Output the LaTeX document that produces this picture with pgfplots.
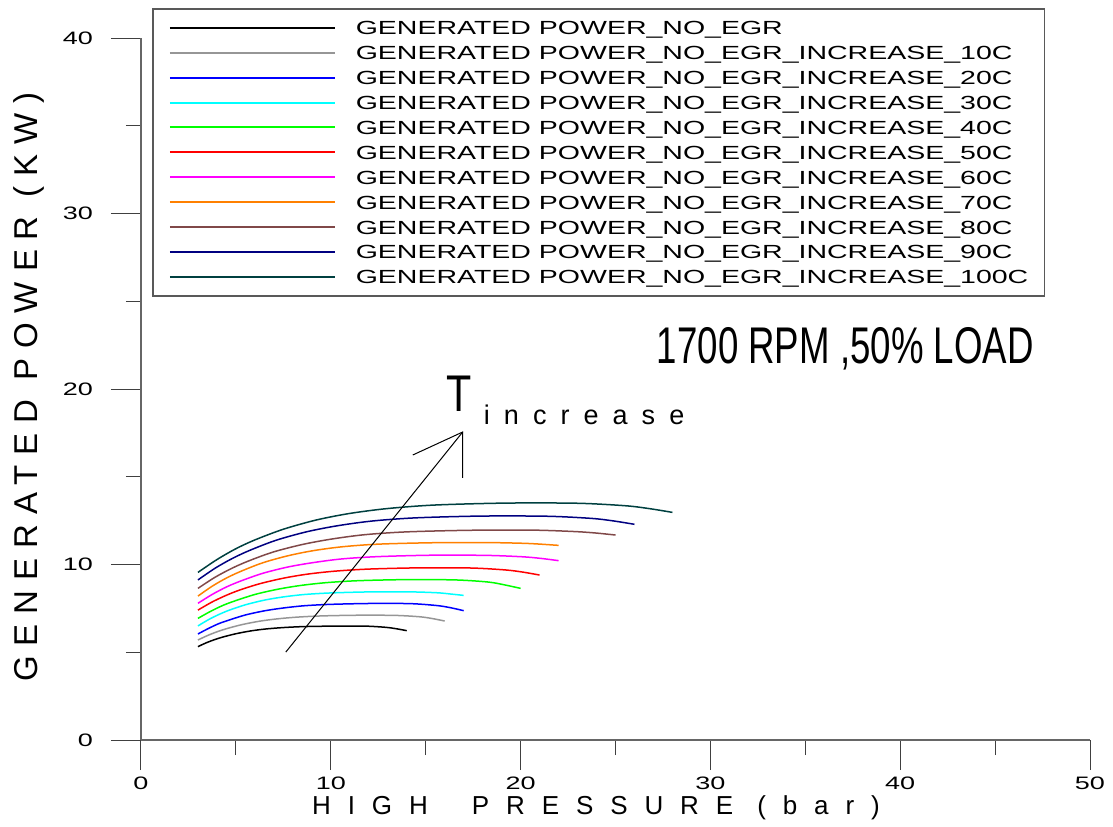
\documentclass[border=0pt]{standalone}
\usepackage{fontspec}
\setmainfont{Liberation Sans}
\newfontfamily\widefont[FakeStretch=1.5]{Liberation Sans}
\newfontfamily\condfont[FakeStretch=0.71]{Liberation Sans}
\newfontfamily\tfont[FakeStretch=0.8]{Liberation Sans}
\newfontfamily\incfont[LetterSpace=52]{Liberation Sans}
\newfontfamily\ylabfont[LetterSpace=30]{Liberation Sans}
\newfontfamily\xlabfont[LetterSpace=65]{Liberation Sans}
\usepackage{pgfplots}
\pgfplotsset{compat=1.18}

\definecolor{powgray}{RGB}{150,150,150}
\definecolor{powblue}{RGB}{0,0,255}
\definecolor{powcyan}{RGB}{0,255,255}
\definecolor{powgreen}{RGB}{0,255,0}
\definecolor{powred}{RGB}{255,0,0}
\definecolor{powmag}{RGB}{255,0,255}
\definecolor{poworange}{RGB}{255,128,0}
\definecolor{powbrown}{RGB}{128,72,72}
\definecolor{pownavy}{RGB}{0,0,128}
\definecolor{powteal}{RGB}{0,64,64}

\begin{document}
\begin{tikzpicture}
\begin{axis}[
    at={(0pt,0pt)}, anchor=south west,
    scale only axis, width=474.5pt, height=351pt,
    xmin=0, xmax=50, ymin=0, ymax=40,
    axis x line*=bottom, axis y line*=left,
    tick align=outside,
    xtick={0,10,...,50}, ytick={0,10,...,40},
    minor tick num=1,
    major tick length=15pt, minor tick length=7.5pt,
    axis line style={black!60, line width=1pt},
    every tick/.style={black!75, line width=0.5pt},
    /pgf/number format/assume math mode=true,
    tick label style={font=\widefont\fontsize{9}{10}\selectfont},
    yticklabel style={xshift=-5.5pt},
    every axis plot/.append style={line width=0.75pt},
    legend image code/.code={\draw[#1, line width=1pt] (0pt,0pt) -- (82.5pt,0pt);},
    legend cell align=left,
    legend style={at={(0.0116,1.0427)}, anchor=north west,
        draw=black!65, line width=0.8pt,
        font=\widefont\fontsize{9.5}{10}\selectfont,
        inner xsep=8pt, inner ysep=6pt, row sep=5.45pt,
        nodes={inner sep=0pt, text height=7pt, text depth=0pt},
        /tikz/every odd column/.append style={column sep=10pt}},
]
\addplot[color=black, smooth] coordinates {(3,5.32) (3.44,5.54) (3.88,5.72) (4.32,5.87) (4.98,6.05) (5.75,6.21) (6.52,6.32) (7.4,6.40) (8.5,6.46) (10.15,6.49) (11.8,6.49) (12.9,6.42) (13.45,6.34) (14,6.23)};
\addlegendentry{GENERATED POWER\_NO\_EGR}
\addplot[color=powgray, smooth] coordinates {(3,5.70) (3.52,5.96) (4.04,6.18) (4.56,6.36) (5.34,6.58) (6.25,6.77) (7.16,6.90) (8.2,7.00) (9.5,7.07) (11.45,7.11) (13.4,7.10) (14.7,7.02) (15.35,6.92) (16,6.78)};
\addlegendentry{GENERATED POWER\_NO\_EGR\_INCREASE\_10C}
\addplot[color=powblue, smooth] coordinates {(3,6.04) (3.56,6.36) (4.12,6.64) (4.68,6.85) (5.52,7.13) (6.5,7.36) (7.48,7.52) (8.6,7.65) (10,7.73) (12.1,7.78) (14.2,7.77) (15.6,7.66) (16.3,7.54) (17,7.37)};
\addlegendentry{GENERATED POWER\_NO\_EGR\_INCREASE\_20C}
\addplot[color=powcyan, smooth] coordinates {(3,6.50) (3.56,6.86) (4.12,7.16) (4.68,7.41) (5.52,7.71) (6.5,7.97) (7.48,8.15) (8.6,8.29) (10,8.38) (12.1,8.44) (14.2,8.44) (15.6,8.39) (16.3,8.32) (17,8.24)};
\addlegendentry{GENERATED POWER\_NO\_EGR\_INCREASE\_30C}
\addplot[color=powgreen, smooth] coordinates {(3,6.93) (3.68,7.34) (4.36,7.69) (5.04,7.96) (6.06,8.31) (7.25,8.60) (8.44,8.81) (9.8,8.97) (11.5,9.08) (14.05,9.14) (16.6,9.12) (18.3,9.00) (19.15,8.84) (20,8.64)};
\addlegendentry{GENERATED POWER\_NO\_EGR\_INCREASE\_40C}
\addplot[color=powred, smooth] coordinates {(3,7.40) (3.72,7.85) (4.44,8.22) (5.16,8.53) (6.24,8.90) (7.5,9.22) (8.76,9.45) (10.2,9.62) (12,9.74) (14.7,9.81) (17.4,9.80) (19.2,9.69) (20.1,9.57) (21,9.40)};
\addlegendentry{GENERATED POWER\_NO\_EGR\_INCREASE\_50C}
\addplot[color=powmag, smooth] coordinates {(3,7.79) (3.76,8.30) (4.52,8.73) (5.28,9.07) (6.42,9.50) (7.75,9.86) (9.08,10.11) (10.6,10.32) (12.5,10.45) (15.35,10.53) (18.2,10.52) (20.1,10.44) (21.05,10.35) (22,10.22)};
\addlegendentry{GENERATED POWER\_NO\_EGR\_INCREASE\_60C}
\addplot[color=poworange, smooth] coordinates {(3,8.20) (3.76,8.77) (4.52,9.24) (5.28,9.62) (6.42,10.10) (7.75,10.50) (9.08,10.79) (10.6,11.01) (12.5,11.16) (15.35,11.24) (18.2,11.25) (20.1,11.21) (21.05,11.16) (22,11.09)};
\addlegendentry{GENERATED POWER\_NO\_EGR\_INCREASE\_70C}
\addplot[color=powbrown, smooth] coordinates {(3,8.64) (3.88,9.26) (4.76,9.77) (5.64,10.19) (6.96,10.71) (8.5,11.14) (10.04,11.45) (11.8,11.70) (14,11.86) (17.3,11.95) (20.6,11.96) (22.8,11.88) (23.9,11.80) (25,11.68)};
\addlegendentry{GENERATED POWER\_NO\_EGR\_INCREASE\_80C}
\addplot[color=pownavy, smooth] coordinates {(3,9.12) (3.92,9.80) (4.84,10.36) (5.76,10.82) (7.14,11.39) (8.75,11.87) (10.36,12.21) (12.2,12.48) (14.5,12.66) (17.95,12.76) (21.4,12.75) (23.7,12.63) (24.85,12.49) (26,12.29)};
\addlegendentry{GENERATED POWER\_NO\_EGR\_INCREASE\_90C}
\addplot[color=powteal, smooth] coordinates {(3,9.55) (4,10.28) (5,10.90) (6,11.40) (7.5,12.01) (9.25,12.54) (11,12.91) (13,13.19) (15.5,13.39) (19.25,13.50) (23,13.49) (25.5,13.35) (26.75,13.19) (28,12.97)};
\addlegendentry{GENERATED POWER\_NO\_EGR\_INCREASE\_100C}

% T increase arrow
\draw[black, line width=0.5pt] (axis cs:7.63,5.01) -- (axis cs:16.95,17.55);
\draw[black, line width=0.5pt] (axis cs:14.32,16.24) -- (axis cs:16.95,17.55) -- (axis cs:16.95,14.93);
\node[anchor=base west, inner sep=0pt] at (axis cs:16.1,18.69) {\tfont\fontsize{25.8}{28}\selectfont T};
\node[anchor=base west, inner sep=0pt] at (axis cs:18.05,18.0) {\incfont\fontsize{13.5}{15}\selectfont increase};
\node[anchor=base west, inner sep=0pt] at (axis cs:27.16,21.48) {\condfont\fontsize{25.8}{28}\selectfont 1700 RPM ,50\% LOAD};
\end{axis}
\node[rotate=90, inner sep=0pt] at (-56pt,176.5pt) {\ylabfont\fontsize{16.5}{17}\selectfont GENERATED POWER (KW)};
\node[inner sep=0pt] at (227.5pt,-34pt) {\xlabfont\fontsize{13}{14}\selectfont HIGH\hspace{22pt}PRESSURE (bar)};
\pgfresetboundingbox
\path[use as bounding box] (-70.5pt,-43pt) rectangle (486pt,370pt);
\end{tikzpicture}
\end{document}
